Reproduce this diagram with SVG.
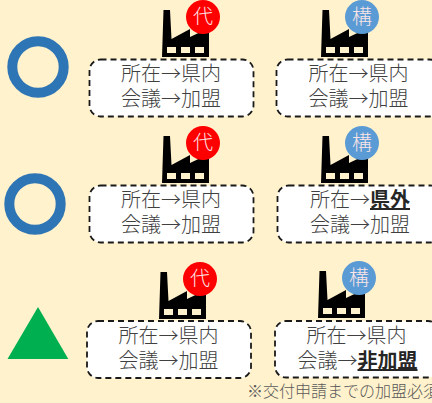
<svg xmlns="http://www.w3.org/2000/svg" width="432" height="403" viewBox="0 0 432 403">
<style>
.box{fill:#fff;stroke:#1a1a1a;stroke-width:1.800;stroke-dasharray:6 4}
.t{font-family:"Noto Sans CJK JP","Liberation Sans",sans-serif;font-size:20px;font-weight:300;fill:#404040;text-anchor:middle}
.b{font-weight:700;fill:#262626;text-decoration:underline}
.bt{font-family:"Noto Sans CJK JP","Liberation Sans",sans-serif;font-size:20px;font-weight:300;fill:#fbe5e5;text-anchor:middle}
.fn{font-family:"Noto Sans CJK JP","Liberation Sans",sans-serif;font-size:16px;font-weight:300;fill:#595959}
</style>
<defs>
<g id="f">
<path fill-rule="evenodd" d="M163.500 10H170L171.500 39L190 29V37L209 28V57H162ZM167 47V53H176V47ZM181 47V53H190V47ZM195 47V53H204V47Z" fill="#000"/>
</g>
<g id="dai"><use href="#f"/><circle cx="203" cy="17" r="17" fill="#f00"/><text class="bt" x="203" y="24">代</text></g>
<g id="kou"><use href="#f"/><circle cx="203" cy="17" r="17" fill="#5b9bd5"/><text class="bt" x="203" y="24">構</text></g>
</defs>
<rect width="432" height="403" fill="#fff2cc"/>
<g id="mark1"><circle cx="38" cy="67" r="25.700" fill="none" stroke="#2e75b6" stroke-width="10"/></g>
<g id="mark2"><circle cx="35" cy="204" r="25.700" fill="none" stroke="#2e75b6" stroke-width="10"/></g>
<g id="mark3"><path d="M38 307L68.300 359H7.500Z" fill="#00b050"/></g>
<g id="node-r1-a"><use href="#dai"/><rect class="box" x="89.500" y="59.500" width="164" height="57" rx="11"/><text class="t" x="171" y="81">所在→県内</text><text class="t" x="171" y="106">会議→加盟</text></g>
<g id="node-r1-b"><use href="#kou" transform="translate(159,0)"/><rect class="box" x="276.500" y="59.500" width="164" height="57" rx="11"/><text class="t" x="358.500" y="81">所在→県内</text><text class="t" x="358.500" y="106">会議→加盟</text></g>
<g id="node-r2-a"><use href="#dai" transform="translate(0,126)"/><rect class="box" x="89.500" y="185.500" width="164" height="57" rx="11"/><text class="t" x="171" y="207">所在→県内</text><text class="t" x="171" y="232">会議→加盟</text></g>
<g id="node-r2-b"><use href="#kou" transform="translate(159,126)"/><rect class="box" x="277.500" y="185.500" width="164" height="57" rx="11"/><text class="t" x="360" y="207">所在→<tspan class="b">県外</tspan></text><text class="t" x="360" y="232">会議→加盟</text></g>
<g id="node-r3-a"><use href="#dai" transform="translate(-3,262)"/><rect class="box" x="87" y="321" width="164" height="57" rx="11"/><text class="t" x="168.500" y="343">所在→県内</text><text class="t" x="168.500" y="368">会議→加盟</text></g>
<g id="node-r3-b"><use href="#kou" transform="translate(156,261)"/><rect class="box" x="275" y="321" width="164" height="56.500" rx="11"/><text class="t" x="356.500" y="343">所在→県内</text><text class="t" x="357.500" y="368">会議→<tspan class="b">非加盟</tspan></text></g>
<g id="connectors"/>
<text class="fn" x="247" y="397">※交付申請までの加盟必須</text>
</svg>
